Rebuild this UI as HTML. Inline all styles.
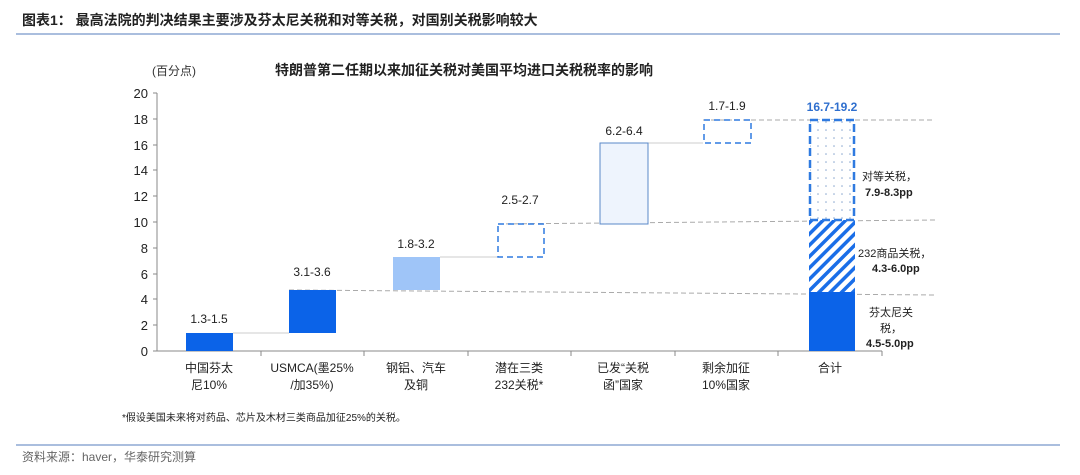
<!DOCTYPE html><html><head><meta charset="utf-8"><style>
body{margin:0;background:#fff;width:1080px;height:470px;overflow:hidden}
svg text{font-family:"Liberation Sans","Noto Sans CJK SC",sans-serif}
</style></head><body>
<svg width="1080" height="470" xmlns="http://www.w3.org/2000/svg">
<defs>
<pattern id="hatch" width="8" height="8" patternUnits="userSpaceOnUse" patternTransform="rotate(45)"><rect width="8" height="8" fill="#fff"/><rect width="3.5" height="8" fill="#1a6ee8"/></pattern>
<pattern id="dots" width="8" height="8" patternUnits="userSpaceOnUse"><rect width="8" height="8" fill="#fff"/><circle cx="2" cy="2" r="0.8" fill="#8aa8d0"/></pattern>
</defs>
<text x="22" y="25" font-size="14" font-weight="bold" fill="#222">图表1：  最高法院的判决结果主要涉及芬太尼关税和对等关税，对国别关税影响较大</text>
<line x1="16" y1="34" x2="1060" y2="34" stroke="#8ea9d4" stroke-width="1.5"/>
<text x="152" y="75" font-size="12" fill="#333">(百分点)</text>
<text x="275" y="75" font-size="14" font-weight="bold" fill="#222">特朗普第二任期以来加征关税对美国平均进口关税税率的影响</text>
<g font-size="13" fill="#222" text-anchor="end">
<text x="148" y="356">0</text><text x="148" y="330">2</text><text x="148" y="304">4</text><text x="148" y="279">6</text><text x="148" y="253">8</text><text x="148" y="227">10</text><text x="148" y="201">12</text><text x="148" y="175">14</text><text x="148" y="150">16</text><text x="148" y="124">18</text><text x="148" y="98">20</text>
</g>
<g stroke="#888" stroke-width="1">
<line x1="157" y1="93" x2="157" y2="351"/>
<line x1="153" y1="351" x2="882" y2="351"/>
<line x1="153" y1="93" x2="157" y2="93"/><line x1="153" y1="119" x2="157" y2="119"/><line x1="153" y1="145" x2="157" y2="145"/><line x1="153" y1="170" x2="157" y2="170"/><line x1="153" y1="196" x2="157" y2="196"/><line x1="153" y1="222" x2="157" y2="222"/><line x1="153" y1="248" x2="157" y2="248"/><line x1="153" y1="274" x2="157" y2="274"/><line x1="153" y1="299" x2="157" y2="299"/><line x1="153" y1="325" x2="157" y2="325"/>
<line x1="261" y1="351" x2="261" y2="356"/><line x1="364" y1="351" x2="364" y2="356"/><line x1="468" y1="351" x2="468" y2="356"/><line x1="571" y1="351" x2="571" y2="356"/><line x1="675" y1="351" x2="675" y2="356"/><line x1="778" y1="351" x2="778" y2="356"/><line x1="882" y1="351" x2="882" y2="356"/>
</g>
<g stroke="#aaa" stroke-dasharray="5,3">
<line x1="289" y1="290" x2="935" y2="295"/>
<line x1="498" y1="224" x2="935" y2="220"/>
<line x1="703" y1="120" x2="935" y2="120"/>
</g>
<g stroke="#ccc">
<line x1="233" y1="333" x2="289" y2="333"/>
<line x1="440" y1="257" x2="498" y2="257"/>
<line x1="648" y1="143" x2="703" y2="143"/>
</g>
<rect x="186" y="333" width="47" height="18" fill="#0b63e8"/>
<rect x="289" y="290" width="47" height="43" fill="#0b63e8"/>
<rect x="393" y="257" width="47" height="33" fill="#9fc5f8"/>
<rect x="498" y="224" width="46" height="33" fill="none" stroke="#2f7ae0" stroke-width="1.5" stroke-dasharray="6,4"/>
<rect x="600" y="143" width="48" height="81" fill="#eef4fd" stroke="#5a88c8" stroke-width="1"/>
<rect x="704" y="120" width="47" height="23" fill="none" stroke="#2f7ae0" stroke-width="1.5" stroke-dasharray="6,4"/>
<rect x="809" y="292" width="46" height="59" fill="#0b63e8"/>
<rect x="809" y="220" width="46" height="72" fill="url(#hatch)"/>
<rect x="810" y="120" width="44" height="100" fill="url(#dots)" stroke="#2f7ae0" stroke-width="2.5" stroke-dasharray="8,4"/>
<g font-size="12" fill="#222" text-anchor="middle">
<text x="209" y="323">1.3-1.5</text>
<text x="312" y="276">3.1-3.6</text>
<text x="416" y="248">1.8-3.2</text>
<text x="520" y="204">2.5-2.7</text>
<text x="624" y="135">6.2-6.4</text>
<text x="727" y="110">1.7-1.9</text>
<text x="832" y="111" font-weight="bold" fill="#2f6fce">16.7-19.2</text>
</g>
<g font-size="11" fill="#222">
<text x="862" y="180">对等关税，</text>
<text x="865" y="196" font-weight="bold">7.9-8.3pp</text>
<text x="858" y="257">232商品关税，</text>
<text x="872" y="272" font-weight="bold">4.3-6.0pp</text>
<text x="869" y="316">芬太尼关</text>
<text x="880" y="332">税，</text>
<text x="866" y="347" font-weight="bold">4.5-5.0pp</text>
</g>
<g font-size="12" fill="#222" text-anchor="middle">
<text x="209" y="372">中国芬太</text><text x="209" y="389">尼10%</text>
<text x="312" y="372">USMCA(墨25%</text><text x="312" y="389">/加35%)</text>
<text x="416" y="372">钢铝、汽车</text><text x="416" y="389">及铜</text>
<text x="519" y="372">潜在三类</text><text x="519" y="389">232关税*</text>
<text x="623" y="372">已发“关税</text><text x="623" y="389">函”国家</text>
<text x="726" y="372">剩余加征</text><text x="726" y="389">10%国家</text>
<text x="830" y="372">合计</text>
</g>
<text x="122" y="421" font-size="10" fill="#222">*假设美国未来将对药品、芯片及木材三类商品加征25%的关税。</text>
<line x1="16" y1="445" x2="1060" y2="445" stroke="#8ea9d4" stroke-width="1.5"/>
<text x="22" y="461" font-size="12" fill="#666">资料来源：haver，华泰研究测算</text>
</svg>
</body></html>
